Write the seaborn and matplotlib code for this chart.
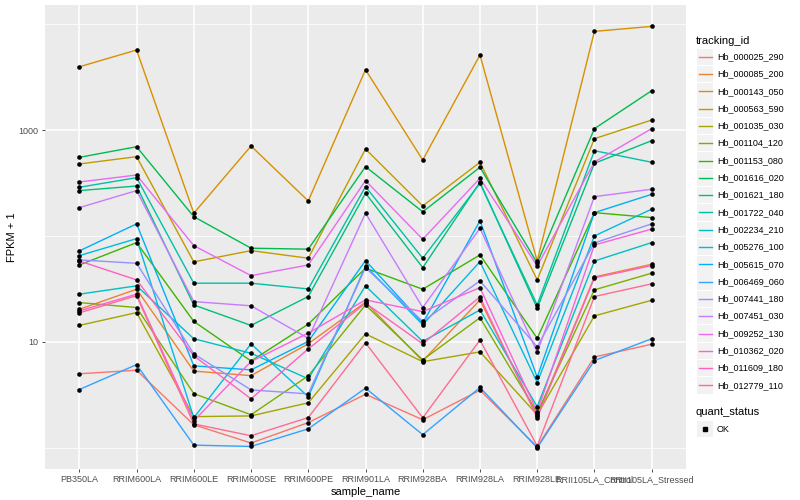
import pandas as pd
import seaborn as sns
import matplotlib.pyplot as plt
import matplotlib.ticker as ticker
from matplotlib.lines import Line2D
from matplotlib.patches import Rectangle

samples = ["PB350LA", "RRIM600LA", "RRIM600LE", "RRIM600SE", "RRIM600PE", "RRIM901LA",
           "RRIM928BA", "RRIM928LA", "RRIM928LE", "RRII105LA_Control", "RRII105LA_Stressed"]

tracking_ids = ["Hb_000025_290", "Hb_000085_200", "Hb_000143_050", "Hb_000563_590",
                "Hb_001035_030", "Hb_001104_120", "Hb_001153_080", "Hb_001616_020",
                "Hb_001621_180", "Hb_001722_040", "Hb_002234_210", "Hb_005276_100",
                "Hb_005615_070", "Hb_006469_060", "Hb_007441_180", "Hb_007451_030",
                "Hb_009252_130", "Hb_010362_020", "Hb_011609_180", "Hb_012779_110"]

# ggplot2 hue palette, 20 levels
colors = ["#F8766D", "#EA8331", "#D89000", "#C09B00", "#A3A500", "#7CAE00", "#39B600",
          "#00BB4E", "#00BF7D", "#00C1A3", "#00BFC4", "#00BAE0", "#00B0F6", "#35A2FF",
          "#9590FF", "#C77CFF", "#E76BF3", "#FA62DB", "#FF62BC", "#FF6C91"]

# FPKM + 1 per gene, in sample order
Hb_000025_290 = [5.0, 5.4, 1.65, 1.11, 1.73, 3.2, 1.84, 3.5, 1.02, 7.2, 9.5]
Hb_000085_200 = [20.3, 31.4, 5.3, 4.8, 9.6, 23.7, 6.6, 24.9, 2.0, 41, 54]
Hb_000143_050 = [3950, 5690, 164, 706, 214, 3710, 521, 5100, 58, 8530, 9510]
Hb_000563_590 = [478, 560, 56.9, 72.7, 61.6, 662, 192, 496, 38.5, 828, 1242]
Hb_001035_030 = [14.3, 18.9, 1.97, 2.0, 2.66, 11.9, 6.5, 8.05, 2.05, 17.6, 24.7]
Hb_001104_120 = [23.5, 21.1, 3.25, 2.05, 4.78, 22.3, 6.76, 16.9, 2.14, 31, 44.5]
Hb_001153_080 = [53.2, 86.5, 15.6, 6.6, 14.7, 49.6, 31.4, 66.2, 10.8, 166, 149]
Hb_001616_020 = [552, 695, 152, 76.6, 75, 451, 169, 445, 55.6, 1030, 2350]
Hb_001621_180 = [268, 296, 22.3, 14.3, 26.8, 253, 50.2, 321, 20.8, 485, 793]
Hb_001722_040 = [288, 355, 35.8, 35.8, 31.6, 292, 61.6, 314, 22.3, 638, 496]
Hb_002234_210 = [28.2, 33.8, 10.7, 7.8, 4.48, 33.8, 10.1, 20, 2.45, 58, 86.5]
Hb_005276_100 = [65.2, 94.3, 1.92, 9.58, 3.03, 52.1, 14.5, 57.2, 4.13, 100, 179]
Hb_005615_070 = [72.2, 130, 5.94, 5.44, 10.1, 58.5, 15, 139, 4.64, 166, 247]
Hb_006469_060 = [3.55, 6.1, 1.06, 1.03, 1.51, 3.66, 1.33, 3.71, 1.0, 6.66, 10.7]
Hb_007441_180 = [59.4, 55.2, 7.7, 3.52, 3.23, 50.2, 15.6, 37.6, 9.0, 85.9, 130]
Hb_007451_030 = [185, 268, 24, 21.9, 10.8, 164, 21.1, 118, 8.0, 235, 276]
Hb_009252_130 = [323, 376, 81, 42.2, 53.2, 333, 93, 350, 52.1, 499, 1030]
Hb_010362_020 = [19.6, 28.2, 1.8, 6.52, 12.1, 24.9, 19.3, 32.5, 2.19, 82.2, 116]
Hb_011609_180 = [58, 38.5, 7.38, 2.9, 8.59, 23.2, 9.58, 26.6, 1.92, 40.2, 52.5]
Hb_012779_110 = [18.8, 27.3, 1.68, 1.30, 1.93, 9.8, 1.92, 10.4, 1.04, 26.8, 35.3]

series = [Hb_000025_290, Hb_000085_200, Hb_000143_050, Hb_000563_590, Hb_001035_030,
          Hb_001104_120, Hb_001153_080, Hb_001616_020, Hb_001621_180, Hb_001722_040,
          Hb_002234_210, Hb_005276_100, Hb_005615_070, Hb_006469_060, Hb_007441_180,
          Hb_007451_030, Hb_009252_130, Hb_010362_020, Hb_011609_180, Hb_012779_110]

rows = []
for tid, vals in zip(tracking_ids, series):
    for i, v in enumerate(vals):
        rows.append({'tracking_id': tid, 'pos': i, 'fpkm': v})
df = pd.DataFrame(rows)

plt.rcParams['font.family'] = ['Liberation Sans', 'DejaVu Sans']

fig = plt.figure(figsize=(8, 5), dpi=100)
ax = fig.add_axes([45 / 800, 31 / 500, 641 / 800, 464 / 500])
ax.set_facecolor('#EBEBEB')
for s in ax.spines.values():
    s.set_visible(False)

sns.lineplot(data=df, x='pos', y='fpkm', hue='tracking_id', hue_order=tracking_ids,
             palette=colors, lw=1.0, sort=False, errorbar=None, legend=False, ax=ax)
sns.scatterplot(data=df, x='pos', y='fpkm', color='black', s=11, linewidth=0,
                legend=False, ax=ax, zorder=3)

ax.set_yscale('log')
ax.set_ylim(10 ** -0.2, 10 ** 4.18)
ax.set_xlim(-0.6, len(samples) - 0.4)

ax.set_xticks(range(len(samples)))
ax.set_xticklabels(samples)
ax.yaxis.set_major_locator(ticker.FixedLocator([10, 1000]))
ax.yaxis.set_major_formatter(ticker.FixedFormatter(['10', '1000']))
ax.yaxis.set_minor_locator(ticker.FixedLocator([1, 100, 10000]))
ax.yaxis.set_minor_formatter(ticker.NullFormatter())

ax.set_axisbelow(True)
ax.grid(which='major', color='white', lw=1.1)
ax.grid(which='minor', axis='y', color='white', lw=0.55)
ax.tick_params(which='major', length=2.5, width=0.6, color='#333333',
               labelcolor='#4D4D4D', labelsize=6.5, pad=2)
ax.tick_params(which='minor', length=0)

ax.set_xlabel('sample_name', fontsize=8, labelpad=2)
ax.set_ylabel('FPKM + 1', fontsize=8, labelpad=1)


def fx(x):
    return x / 800


def fy(y):
    return 1 - y / 500


# legend, ggplot style
fig.text(fx(696), fy(40.5), 'tracking_id', fontsize=8, va='center', ha='left')
for i, (tid, c) in enumerate(zip(tracking_ids, colors)):
    yc = 56.7 + i * 17.3
    fig.add_artist(Rectangle((fx(697), fy(yc + 8.2)), 16 / 800, 16.4 / 500,
                             transform=fig.transFigure, facecolor='#F2F2F2', edgecolor='none'))
    fig.add_artist(Line2D([fx(698.5), fx(711.5)], [fy(yc), fy(yc)],
                          transform=fig.transFigure, color=c, lw=1.0))
    fig.text(fx(717), fy(yc), tid, fontsize=6.5, va='center', ha='left')

fig.text(fx(696), fy(412), 'quant_status', fontsize=8, va='center', ha='left')
fig.add_artist(Rectangle((fx(697), fy(429 + 8.2)), 16 / 800, 16.4 / 500,
                         transform=fig.transFigure, facecolor='#F2F2F2', edgecolor='none'))
fig.add_artist(Line2D([fx(705)], [fy(429)], transform=fig.transFigure, marker='s',
                      ms=2.6, color='black', lw=0))
fig.text(fx(717), fy(429), 'OK', fontsize=6.5, va='center', ha='left')

plt.savefig('out.png', dpi=100)
